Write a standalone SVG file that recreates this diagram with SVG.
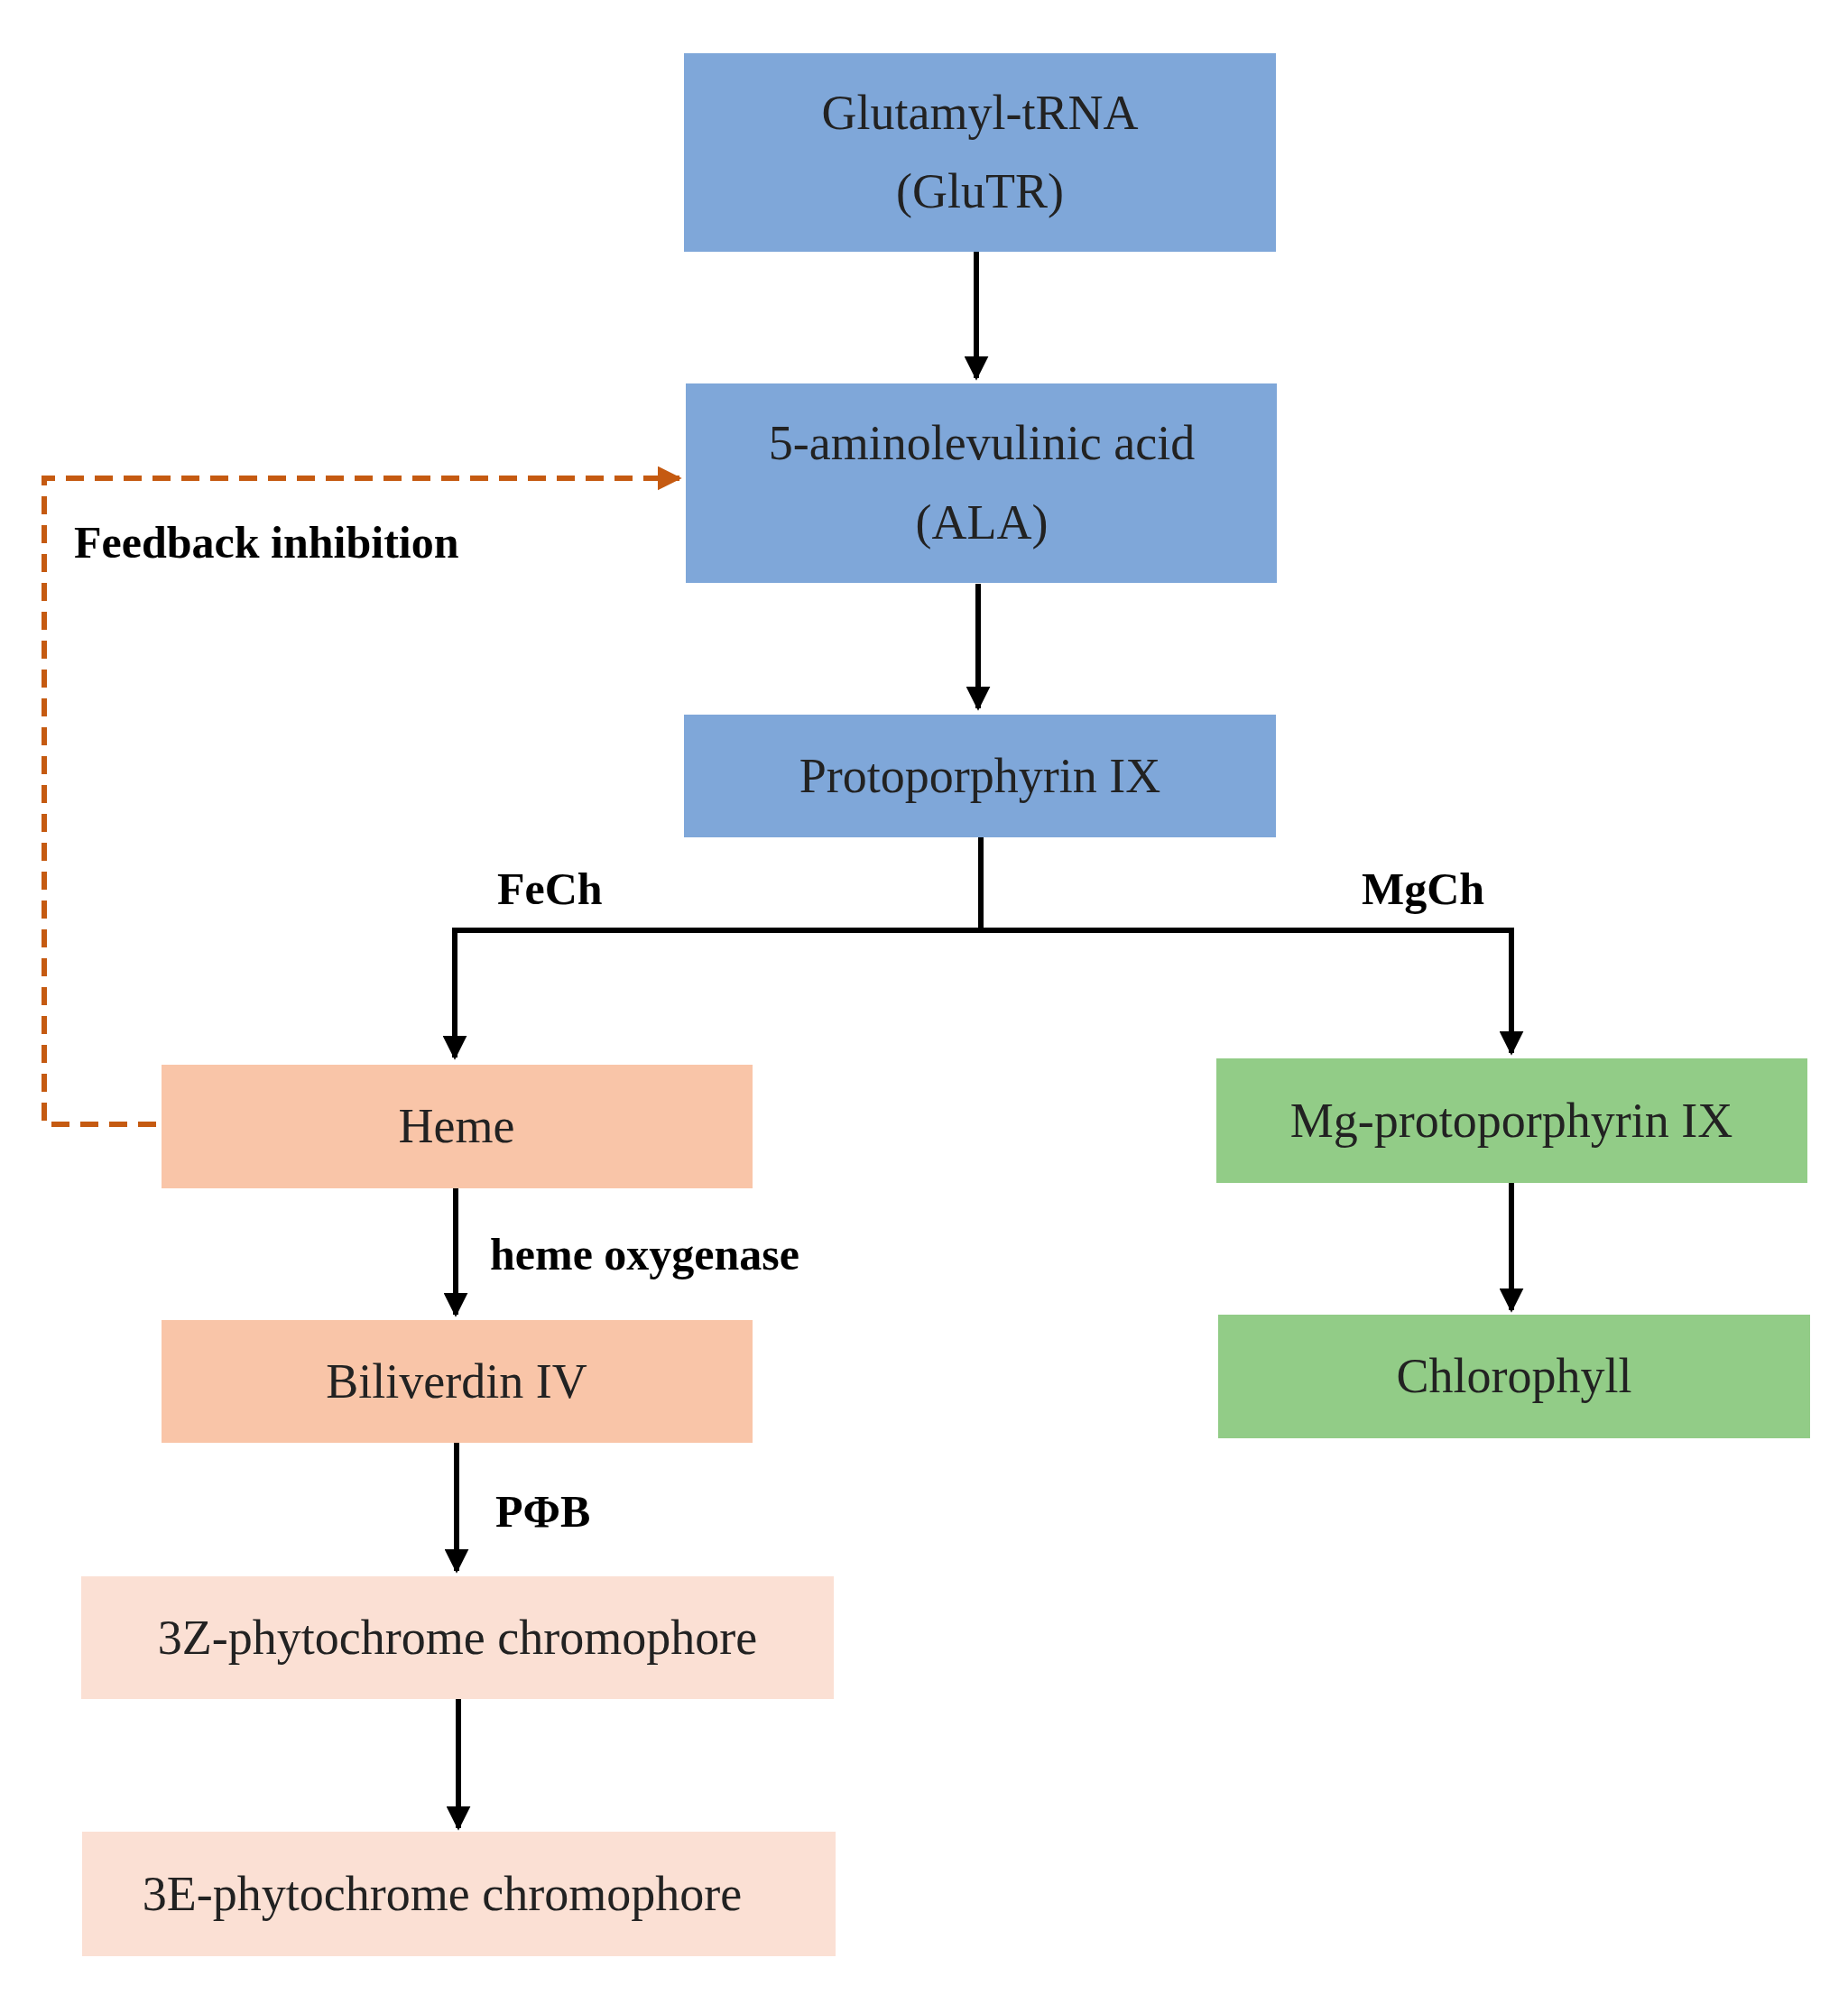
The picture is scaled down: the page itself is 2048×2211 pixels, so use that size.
<svg xmlns="http://www.w3.org/2000/svg" width="2048" height="2211" viewBox="0 0 2048 2211">
<defs>
<marker id="ah" viewBox="0 0 10 10" refX="9" refY="5" markerWidth="4.5" markerHeight="4.5" orient="auto" markerUnits="strokeWidth"><path d="M0,0 L10,5 L0,10 Z" fill="#000"/></marker>
<marker id="ao" viewBox="0 0 10 10" refX="9" refY="5" markerWidth="4.5" markerHeight="4.5" orient="auto" markerUnits="strokeWidth"><path d="M0,0 L10,5 L0,10 Z" fill="#C55A11"/></marker>
</defs>
<style>
.t{font-family:"Liberation Serif",serif;font-size:54px;fill:#222;text-anchor:middle}
.b{font-family:"Liberation Serif",serif;font-size:50px;font-weight:bold;fill:#000}
.blue{fill:#7FA7D9}.sal{fill:#F9C5A8}.grn{fill:#92CC87}.pink{fill:#FBE0D4}
.c{stroke:#000;stroke-width:6;fill:none}
</style>
<rect width="2048" height="2211" fill="#fff"/>
<g id="glutr"><rect class="blue" x="758" y="59" width="656" height="220"/><text class="t" x="1086" y="143">Glutamyl-tRNA</text><text class="t" x="1086" y="230">(GluTR)</text></g>
<g id="ala"><rect class="blue" x="760" y="425" width="655" height="221"/><text class="t" x="1088" y="509">5-aminolevulinic acid</text><text class="t" x="1088" y="597">(ALA)</text></g>
<g id="proto"><rect class="blue" x="758" y="792" width="656" height="136"/><text class="t" x="1086" y="878">Protoporphyrin IX</text></g>
<g id="heme"><rect class="sal" x="179" y="1180" width="655" height="137"/><text class="t" x="506" y="1266">Heme</text></g>
<g id="mgproto"><rect class="grn" x="1348" y="1173" width="655" height="138"/><text class="t" x="1675" y="1260">Mg-protoporphyrin IX</text></g>
<g id="biliverdin"><rect class="sal" x="179" y="1463" width="655" height="136"/><text class="t" x="506" y="1549">Biliverdin IV</text></g>
<g id="chlorophyll"><rect class="grn" x="1350" y="1457" width="656" height="137"/><text class="t" x="1678" y="1543">Chlorophyll</text></g>
<g id="z3"><rect class="pink" x="90" y="1747" width="834" height="136"/><text class="t" x="507" y="1833">3Z-phytochrome chromophore</text></g>
<g id="e3"><rect class="pink" x="91" y="2030" width="835" height="138"/><text class="t" x="490" y="2117">3E-phytochrome chromophore</text></g>
<g id="connectors">
<line class="c" x1="1082" y1="279" x2="1082" y2="419" marker-end="url(#ah)"/>
<line class="c" x1="1084" y1="647" x2="1084" y2="785" marker-end="url(#ah)"/>
<polyline class="c" points="1087,928 1087,1031"/>
<polyline class="c" points="1087,1031 504,1031 504,1172" marker-end="url(#ah)"/>
<polyline class="c" points="1087,1031 1675,1031 1675,1167" marker-end="url(#ah)"/>
<line class="c" x1="505" y1="1317" x2="505" y2="1457" marker-end="url(#ah)"/>
<line class="c" x1="506" y1="1599" x2="506" y2="1741" marker-end="url(#ah)"/>
<line class="c" x1="508" y1="1883" x2="508" y2="2026" marker-end="url(#ah)"/>
<line class="c" x1="1675" y1="1311" x2="1675" y2="1452" marker-end="url(#ah)"/>
<polyline points="173,1246 49,1246 49,530 753,530" fill="none" stroke="#C55A11" stroke-width="6" stroke-dasharray="20,12" marker-end="url(#ao)"/>
<text class="b" x="82" y="618">Feedback inhibition</text>
<text class="b" x="551" y="1002">FeCh</text>
<text class="b" x="1509" y="1002">MgCh</text>
<text class="b" x="543" y="1407">heme oxygenase</text>
<text class="b" x="549" y="1692">PΦB</text>
</g>
</svg>
